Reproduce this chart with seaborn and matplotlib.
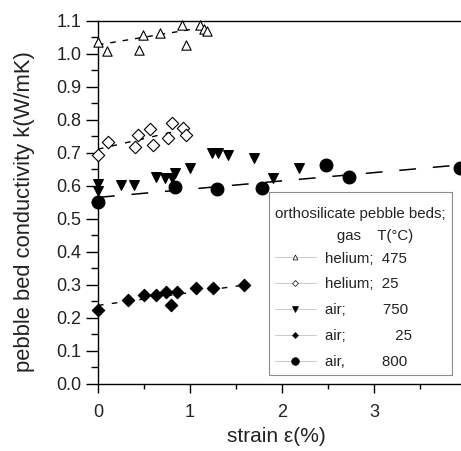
import matplotlib
matplotlib.use("Agg")
import matplotlib.pyplot as plt
import seaborn as sns
import pandas as pd
from matplotlib.lines import Line2D
from matplotlib.ticker import MultipleLocator, FormatStrFormatter
from matplotlib.offsetbox import VPacker, DrawingArea

# ---- data ----
he475_x = [0.00, 0.10, 0.45, 0.49, 0.67, 0.91, 0.96, 1.11, 1.15, 1.18]
he475_y = [1.036, 1.009, 1.011, 1.057, 1.063, 1.087, 1.026, 1.088, 1.074, 1.068]

he25_x = [0.00, 0.11, 0.40, 0.435, 0.56, 0.60, 0.765, 0.80, 0.925, 0.96]
he25_y = [0.693, 0.732, 0.718, 0.754, 0.772, 0.724, 0.744, 0.789, 0.774, 0.754]

air750_x = [0.00, 0.00, 0.255, 0.39, 0.635, 0.725, 0.80, 0.835, 1.00, 1.234, 1.306, 1.414, 1.70, 1.90, 2.18]
air750_y = [0.605, 0.585, 0.602, 0.602, 0.628, 0.623, 0.625, 0.640, 0.653, 0.698, 0.698, 0.693, 0.683, 0.625, 0.653]

air25_x = [0.00, 0.326, 0.50, 0.635, 0.744, 0.79, 0.864, 1.07, 1.25, 1.59]
air25_y = [0.225, 0.254, 0.268, 0.268, 0.278, 0.239, 0.278, 0.290, 0.290, 0.300]

air800_x = [0.00, 0.835, 1.29, 1.785, 2.475, 2.725, 3.94]
air800_y = [0.552, 0.597, 0.590, 0.592, 0.662, 0.626, 0.655]

# linear fits (endpoints)
fit_he475_x, fit_he475_y = [0.0, 1.0], [1.027, 1.073]
fit_he25_x, fit_he25_y = [0.0, 1.0], [0.711, 0.775]
fit_air25_x, fit_air25_y = [0.0, 1.6], [0.238, 0.300]
fit_air800_x, fit_air800_y = [0.0, 4.0], [0.565, 0.665]

legend_title = "orthosilicate pebble beds;\n       gas    T(°C)"
legend_labels = ["helium;  475", "helium;  25", "air;         750",
                 "air;            25", "air,         800"]
x_label = "strain ε(%)"
y_label = "pebble bed conductivity k(W/mK)"

# ---- styling ----
sns.set_theme(style="white")
plt.rcParams['font.family'] = ['Liberation Sans', 'DejaVu Sans']

fig = plt.figure(figsize=(4.61, 4.51), dpi=100)
ax = fig.add_axes([98/461, 67/451, 368/461, 363.3/451])

def scat(x, y, marker, face, size, edge="black", lw=0.8):
    df = pd.DataFrame({"x": x, "y": y})
    sns.scatterplot(data=df, x="x", y="y", ax=ax, marker=marker, s=size,
                    color=face, edgecolor=edge, linewidth=lw, clip_on=False, zorder=3)

def fit(x, y, dashes, lw=1.0):
    df = pd.DataFrame({"x": x, "y": y})
    sns.lineplot(data=df, x="x", y="y", ax=ax, color="black", lw=lw,
                 linestyle=(0, dashes), zorder=2)

fit(fit_he475_x, fit_he475_y, (4, 5))
fit(fit_he25_x, fit_he25_y, (4, 6))
fit(fit_air25_x, fit_air25_y, (4, 6))
fit(fit_air800_x, fit_air800_y, (11, 11), lw=1.1)

scat(he475_x, he475_y, "^", "white", 45)
scat(he25_x, he25_y, "D", "white", 40)
scat(air750_x, air750_y, "v", "black", 50)
scat(air25_x, air25_y, "D", "black", 40)
scat(air800_x, air800_y, "o", "black", 85)

ax.set_xlim(0, 4)
ax.set_ylim(0, 1.1)
ax.xaxis.set_major_locator(MultipleLocator(1))
ax.xaxis.set_minor_locator(MultipleLocator(0.5))
ax.yaxis.set_major_locator(MultipleLocator(0.1))
ax.yaxis.set_minor_locator(MultipleLocator(0.05))
ax.yaxis.set_major_formatter(FormatStrFormatter('%.1f'))

for s in ["left", "bottom", "top"]:
    ax.spines[s].set_visible(True)
    ax.spines[s].set_color("black")
    ax.spines[s].set_linewidth(1.0)
ax.spines["right"].set_visible(False)

ax.tick_params(axis="y", which="major", direction="out", length=8.4, width=1.0,
               color="black", labelsize=13, pad=3.5, left=True, labelcolor="#222222")
ax.tick_params(axis="y", which="minor", direction="out", length=5, width=1.0,
               color="black", left=True)
ax.tick_params(axis="x", which="major", direction="out", length=6.5, width=1.0,
               color="black", labelsize=13, pad=8, bottom=True, labelcolor="#222222")
ax.tick_params(axis="x", which="minor", direction="out", length=3.3, width=1.0,
               color="black", bottom=True)

ax.set_xlabel(x_label, fontsize=15, color="#222222")
ax.set_ylabel(y_label, fontsize=15.8, color="#222222")
ax.xaxis.set_label_coords(0.486, -0.118)
ax.yaxis.set_label_coords(-0.17, 0.476)

markers = [("^", "white"), ("D", "white"), ("v", "black"), ("D", "black"), ("o", "black")]
sizes = [3.5, 3.0, 4.0, 3.0, 5.5]
handles = [Line2D([], [], color="0.75", lw=0.6, marker=m, mfc=fc, mec="black",
                  mew=0.5, ms=sz) for (m, fc), sz in zip(markers, sizes)]
leg = ax.legend(handles, legend_labels, title=legend_title, loc="lower left",
                bbox_to_anchor=(0.465, 0.025), frameon=True, fancybox=False,
                edgecolor="0.55", framealpha=1, handlelength=2.7, handletextpad=0.6,
                labelspacing=0.79, borderpad=0.4, borderaxespad=0,
                alignment="left", prop={"size": 10.8})
leg.get_frame().set_linewidth(0.8)
leg.get_title().set_fontsize(10.8)
leg.get_title().set_multialignment("center")
leg.get_title().set_linespacing(1.7)
for t in leg.get_texts():
    t.set_color("#222222")
leg.get_title().set_color("#222222")

# extra space above the legend title and tighter title-to-entries gap (as in the reference)
try:
    tb = leg._legend_box._children[0]
    spacer = VPacker(children=[DrawingArea(1, 7), tb], pad=0, sep=0, align="left")
    spacer.set_figure(fig)
    leg._legend_box._children[0] = spacer
    leg._legend_box.sep = 6
except Exception:
    pass

fig.savefig("out.png", dpi=100)
